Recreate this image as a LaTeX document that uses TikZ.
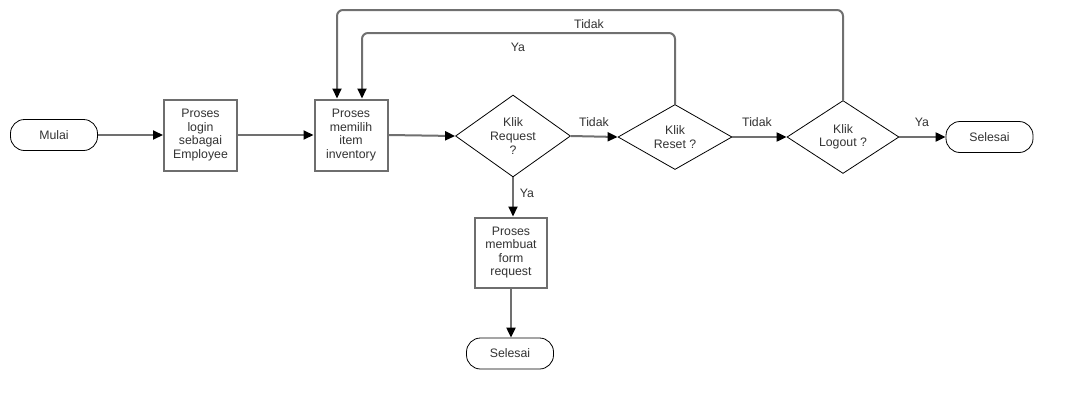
\documentclass[tikz,border=0pt]{standalone}
\usepackage{fontspec}
\setmainfont{Liberation Sans}
\usetikzlibrary{arrows.meta,shapes.geometric}
\definecolor{flowLine}{HTML}{707070}
\definecolor{boxLine}{HTML}{6E6E6E}
\definecolor{textGrey}{HTML}{333333}
\newcommand{\flowfont}{\fontsize{12.3}{13.6}\selectfont}
\tikzset{
  termbox/.style={rectangle, rounded corners=14pt, draw=black, line width=0.8pt, fill=white, minimum width=87pt, minimum height=31pt, font=\flowfont, text=textGrey, inner sep=0pt},
  procbox/.style 2 args={rectangle, draw=boxLine, line width=2pt, fill=white, minimum width=#1, minimum height=#2, align=center, font=\flowfont, text=textGrey, inner sep=0pt},
  decbox/.style 2 args={diamond, draw=black, line width=0.8pt, fill=white, minimum width=#1, minimum height=#2, align=center, font=\flowfont, text=textGrey, inner sep=0pt},
  flowarrow/.style={-{Triangle[length=10pt,width=9pt,color=black]}, line width=2pt, draw=flowLine},
  flowlabel/.style={font=\flowfont, text=textGrey, inner sep=0pt},
}

\begin{document}
\begin{tikzpicture}[x=1pt,y=-1pt]
  \useasboundingbox[fill=white] (0,0) rectangle (1073,410);

  % main row
  \node[termbox] (mulai) at (54,135) {Mulai};
  \node[procbox={73}{71}] (login) at (200.5,135) {Proses\\login\\sebagai\\Employee};
  \node[procbox={73}{71}] (memilih) at (351,135) {Proses\\memilih\\item\\inventory};
  \node[decbox={115}{78}] (request) at (513,136) {Klik\\Request\\?};
  \node[decbox={114}{50}] (reset) at (675,137) {Klik\\Reset ?};
  \node[decbox={112}{50}] (logout) at (843,137) {Klik\\Logout ?};
  \node[termbox] (selesaiKanan) at (989.5,137) {Selesai};

  % request branch
  \node[procbox={72}{70}] (membuat) at (511,252.5) {Proses\\membuat\\form\\request};
  \node[termbox] (selesaiBawah) at (510,353.5) {Selesai};

  \draw[flowarrow] (mulai.east) -- (login.west);
  \draw[flowarrow] (login.east) -- (memilih.west);
  \draw[flowarrow] (memilih.east) -- (request.west);
  \draw[flowarrow] (request.east) -- (reset.west);
  \draw[flowarrow] (reset.east) -- (logout.west);
  \draw[flowarrow] (logout.east) -- (selesaiKanan.west);
  \draw[flowarrow] (request.south) -- (request.south |- membuat.north);
  \draw[flowarrow] (membuat.south) -- (membuat.south |- selesaiBawah.north);

  % loops back to memilih
  \coordinate (yaIn) at ([xshift=11pt]memilih.north);
  \coordinate (tidakIn) at ([xshift=-14pt]memilih.north);
  \coordinate (yaTop) at (0,33);
  \coordinate (tidakTop) at (0,10);
  \draw[flowarrow, rounded corners=6pt] (reset.north) |- (yaIn |- yaTop) -- (yaIn);
  \draw[flowarrow, rounded corners=6pt] (logout.north) |- (tidakIn |- tidakTop) -- (tidakIn);

  \node[flowlabel] (tidakRequest) at (594,122) {Tidak};
  \node[flowlabel] (tidakReset) at (757,122) {Tidak};
  \node[flowlabel] (yaLogout) at (922,122) {Ya};
  \node[flowlabel] (yaRequest) at (527,193) {Ya};
  \node[flowlabel] (yaReset) at (518,47) {Ya};
  \node[flowlabel] (tidakLogout) at (589,24) {Tidak};
\end{tikzpicture}
\end{document}
